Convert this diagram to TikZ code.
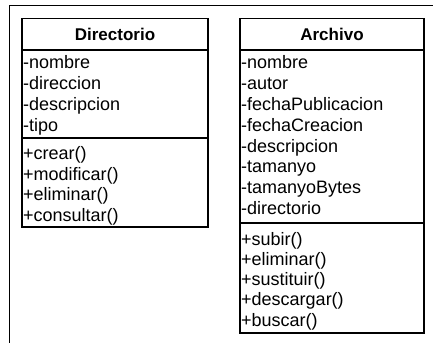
\documentclass[tikz,border=0pt]{standalone}
\usepackage{fontspec}
\setmainfont{Liberation Sans}
\begin{document}
\begin{tikzpicture}[x=1pt,y=-1pt,
    member/.style={anchor=base west,inner sep=0pt,font=\fontsize{18}{21}\selectfont},
    classname/.style={anchor=base,inner sep=0pt,font=\fontsize{17}{20}\selectfont\bfseries},
    classbox/.style={draw,line width=1.2pt}]
  \useasboundingbox (0,0) rectangle (433,343);
  \draw[line width=1pt] (433,5) -- (9.5,5) -- (9.5,343);
  % Directorio
  \draw[classbox] (22,18.5) rectangle (208,227);
  \draw[classbox] (22,50) -- (208,50);
  \draw[classbox] (22,138) -- (208,138);
  \node[classname] (dir) at (115,40.7) {Directorio};
  \foreach \t [count=\i] in {nombre,direccion,descripcion,tipo}
    \node[member] (dir-a\i) at (23,{68.4+(\i-1)*20.9}) {-\t};
  \foreach \t [count=\i] in {crear(),modificar(),eliminar(),consultar()}
    \node[member] (dir-m\i) at (23,{159.8+(\i-1)*20.4}) {+\t};
  % Archivo
  \draw[classbox] (240,18.5) rectangle (424,333);
  \draw[classbox] (240,50) -- (424,50);
  \draw[classbox] (240,223) -- (424,223);
  \node[classname] (arch) at (332,40.7) {Archivo};
  \foreach \t [count=\i] in {nombre,autor,fechaPublicacion,fechaCreacion,descripcion,tamanyo,tamanyoBytes,directorio}
    \node[member] (arch-a\i) at (241,{68.4+(\i-1)*20.9}) {-\t};
  \foreach \t [count=\i] in {subir(),eliminar(),sustituir(),descargar(),buscar()}
    \node[member] (arch-m\i) at (241,{245+(\i-1)*20.3}) {+\t};
\end{tikzpicture}
\end{document}
